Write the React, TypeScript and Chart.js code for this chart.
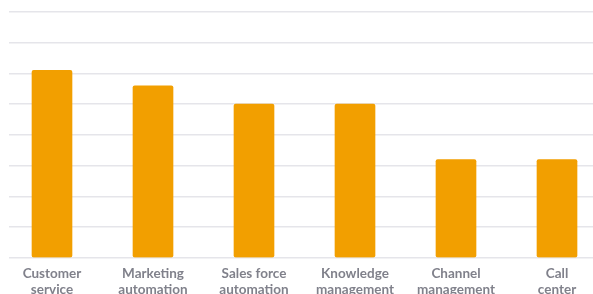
import React, { useEffect, useRef } from "react";
import { Chart, registerables } from "chart.js";

Chart.register(...registerables);

const categories: string[][] = [
  ["Customer", "service"],
  ["Marketing", "automation"],
  ["Sales force", "automation"],
  ["Knowledge", "management"],
  ["Channel", "management"],
  ["Call", "center"],
];
const values: number[] = [61, 56, 50, 50, 32, 32];
const yMax = 80;
const yStep = 10;

export default function App() {
  const ref = useRef<HTMLCanvasElement | null>(null);

  useEffect(() => {
    if (!ref.current) return;
    const chart = new Chart(ref.current, {
      type: "bar",
      data: {
        datasets: [
          {
            data: values.map((v, i) => ({ x: i, y: v })),
            backgroundColor: "#F29F00",
            borderRadius: 2,
            borderSkipped: false,
            barThickness: 40,
          },
        ],
      },
      options: {
        animation: false,
        responsive: true,
        maintainAspectRatio: false,
        layout: { padding: { left: 9, top: 12, right: 0, bottom: 0 } },
        plugins: { legend: { display: false }, tooltip: { enabled: false } },
        scales: {
          x: {
            type: "linear",
            offset: false,
            min: -43 / 101,
            max: -43 / 101 + 584 / 101,
            grid: { display: false, drawTicks: false, offset: false },
            border: { display: false },
            ticks: {
              stepSize: 1,
              includeBounds: false,
              autoSkip: false,
              maxRotation: 0,
              padding: 8,
              color: "#80818b",
              font: { family: "Lato", size: 13.5, weight: "bold", lineHeight: 1.19 },
              callback: (v: any) => {
                const idx = Number(v);
                return Number.isInteger(idx) && categories[idx] ? categories[idx] : "";
              },
            },
          },
          y: {
            min: 0,
            max: yMax,
            grid: { color: "#e5e5ea", lineWidth: 1.5, drawTicks: false },
            border: { display: false },
            ticks: { display: false, stepSize: yStep },
          },
        },
      },
    });
    return () => chart.destroy();
  }, []);

  return (
    <div style={{ position: "fixed", left: 0, top: 0, width: 593, height: 306 }}>
      <canvas ref={ref} />
    </div>
  );
}
